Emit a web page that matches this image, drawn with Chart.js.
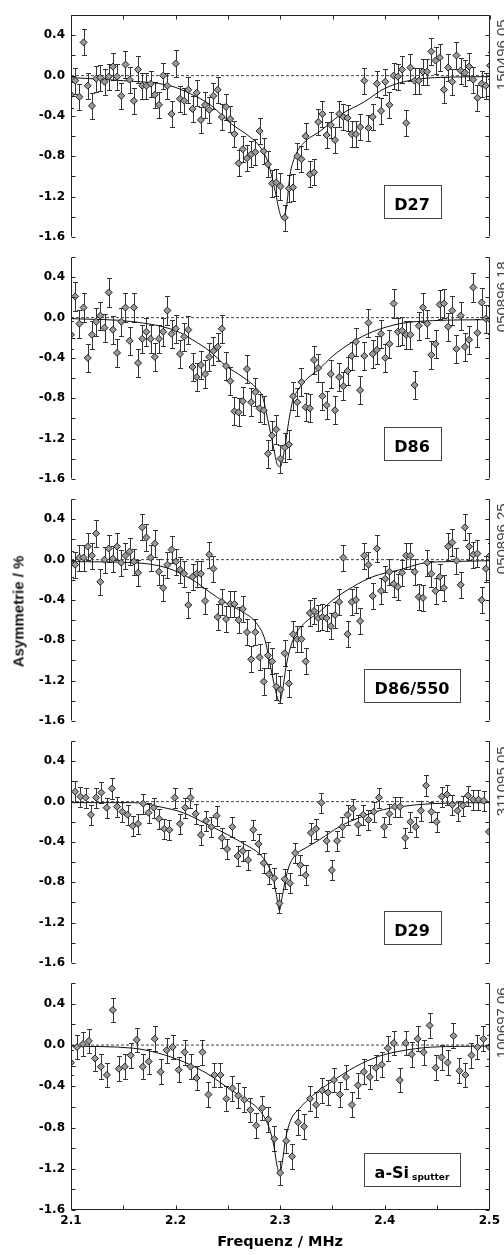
<!DOCTYPE html>
<html>
<head>
<meta charset="utf-8">
<script src="https://cdn.jsdelivr.net/npm/chart.js@4.4.0/dist/chart.umd.min.js"></script>
<style>
  html, body { margin: 0; padding: 0; background: #fff; }
  #wrap { position: relative; width: 504px; height: 1255px; overflow: hidden; }
  #wrap canvas { position: absolute; left: 0; }
  #ytitle {
    position: absolute; left: -82px; top: 603px; width: 200px;
    text-align: center; line-height: 16px;
    font: bold 15px "Liberation Sans", Arial, sans-serif; color: #111;
    transform: rotate(-90deg); white-space: nowrap;
  }
</style>
</head>
<body>
<div id="wrap">
  <canvas id="p0" width="504" height="248"></canvas>
  <canvas id="p1" width="504" height="248"></canvas>
  <canvas id="p2" width="504" height="248"></canvas>
  <canvas id="p3" width="504" height="248"></canvas>
  <canvas id="p4" width="504" height="285"></canvas>
  <div id="ytitle">Asymmetrie / %</div>
</div>
<script>
// Frequenzen der Messpunkte (MHz)
const freqA = [2.100,2.104,2.108,2.112,2.116,2.120,2.124,2.128,2.132,2.136,2.140,2.144,2.148,2.152,2.156,2.160,2.164,2.168,2.172,2.176,2.180,2.184,2.188,2.192,2.196,2.200,2.204,2.208,2.212,2.216,2.220,2.224,2.228,2.232,2.236,2.240,2.244,2.248,2.252,2.256,2.260,2.264,2.268,2.272,2.276,2.280,2.284,2.288,2.292,2.296,2.300,2.304,2.308,2.312,2.316,2.320,2.324,2.328,2.332,2.336,2.340,2.344,2.348,2.352,2.356,2.360,2.364,2.368,2.372,2.376,2.380,2.384,2.388,2.392,2.396,2.400,2.404,2.408,2.412,2.416,2.420,2.424,2.428,2.432,2.436,2.440,2.444,2.448,2.452,2.456,2.460,2.464,2.468,2.472,2.476,2.480,2.484,2.488,2.492,2.496,2.500];
const freqB = [2.104,2.109,2.114,2.119,2.124,2.129,2.134,2.139,2.144,2.149,2.154,2.159,2.164,2.169,2.174,2.179,2.184,2.189,2.194,2.199,2.204,2.209,2.214,2.219,2.224,2.229,2.234,2.239,2.244,2.249,2.254,2.259,2.264,2.269,2.274,2.279,2.284,2.289,2.294,2.299,2.304,2.309,2.314,2.319,2.324,2.329,2.334,2.339,2.344,2.349,2.354,2.359,2.364,2.369,2.374,2.379,2.384,2.389,2.394,2.399,2.404,2.409,2.414,2.419,2.424,2.429,2.434,2.439,2.444,2.449,2.454,2.459,2.464,2.469,2.474,2.479,2.484,2.489,2.494,2.499];
const freqC = [2.1000,2.1057,2.1114,2.1171,2.1229,2.1286,2.1343,2.1400,2.1457,2.1514,2.1571,2.1629,2.1686,2.1743,2.1800,2.1857,2.1914,2.1971,2.2029,2.2086,2.2143,2.2200,2.2257,2.2314,2.2371,2.2429,2.2486,2.2543,2.2600,2.2657,2.2714,2.2771,2.2829,2.2886,2.2943,2.3000,2.3057,2.3114,2.3171,2.3229,2.3286,2.3343,2.3400,2.3457,2.3514,2.3571,2.3629,2.3686,2.3743,2.3800,2.3857,2.3914,2.3971,2.4029,2.4086,2.4143,2.4200,2.4257,2.4314,2.4371,2.4429,2.4486,2.4543,2.4600,2.4657,2.4714,2.4771,2.4829,2.4886,2.4943,2.5000];

// Asymmetrie (%) je Probe
const asymD27 = [-0.19,-0.05,-0.21,0.33,-0.10,-0.30,-0.03,-0.02,-0.06,-0.01,
  0.09,-0.01,-0.20,0.11,-0.04,-0.25,0.06,-0.10,-0.10,-0.08,
  -0.19,-0.29,0.00,-0.10,-0.38,0.12,-0.23,-0.25,-0.14,-0.33,
  -0.17,-0.44,-0.29,-0.34,-0.20,-0.14,-0.41,-0.31,-0.43,-0.58,
  -0.87,-0.73,-0.82,-0.78,-0.76,-0.55,-0.75,-0.88,-1.07,-1.06,
  -1.10,-1.41,-1.12,-1.11,-0.80,-0.83,-0.60,-0.98,-0.96,-0.46,
  -0.38,-0.59,-0.49,-0.64,-0.38,-0.41,-0.42,-0.58,-0.58,-0.51,
  -0.05,-0.52,-0.41,-0.08,-0.35,-0.06,-0.29,0.00,-0.01,0.06,
  -0.47,0.08,-0.05,-0.05,0.04,0.04,0.24,0.15,0.18,-0.14,
  0.08,-0.06,0.20,0.05,0.03,0.09,-0.04,-0.22,-0.08,-0.10,
  0.10];
const asymD86 = [-0.17,0.21,-0.06,0.10,-0.40,-0.17,-0.04,0.02,-0.10,0.25,
  -0.12,-0.35,-0.04,0.10,-0.23,0.10,-0.45,-0.21,-0.14,-0.21,
  -0.39,-0.21,-0.14,0.07,-0.16,-0.11,-0.36,-0.19,-0.12,-0.49,
  -0.59,-0.47,-0.56,-0.39,-0.33,-0.29,-0.11,-0.48,-0.63,-0.93,
  -0.94,-0.83,-0.51,-0.84,-0.74,-0.90,-0.92,-1.35,-1.17,-1.11,
  -1.40,-1.29,-1.26,-0.78,-0.84,-0.64,-0.89,-0.90,-0.42,-0.50,
  -0.78,-0.87,-0.56,-0.92,-0.59,-0.68,-0.53,-0.38,-0.24,-0.72,
  -0.38,-0.05,-0.36,-0.32,-0.16,-0.40,-0.26,0.14,-0.14,-0.13,
  -0.17,-0.17,-0.67,-0.08,0.10,-0.06,-0.37,-0.26,0.13,0.14,
  -0.09,0.07,-0.31,0.02,-0.29,-0.22,0.30,-0.15,0.15,-0.01,
  -0.02];
const asymD86_550 = [-0.04,-0.05,0.02,0.02,0.13,0.04,0.26,-0.22,0.00,0.11,
  0.01,0.13,-0.03,0.04,0.08,-0.02,-0.13,0.32,0.22,0.02,
  0.16,-0.12,-0.28,-0.05,0.10,-0.02,-0.10,-0.14,-0.45,-0.17,
  -0.14,-0.14,-0.41,0.05,-0.09,-0.57,-0.42,-0.59,-0.44,-0.44,
  -0.60,-0.49,-0.72,-0.99,-0.72,-0.97,-1.21,-0.95,-1.01,-1.26,
  -1.29,-0.93,-1.23,-0.74,-0.79,-0.79,-1.01,-0.53,-0.51,-0.58,
  -0.57,-0.58,-0.66,-0.55,-0.42,0.02,-0.74,-0.42,-0.40,-0.61,
  0.04,-0.05,-0.36,0.11,-0.31,-0.19,-0.12,-0.24,-0.27,-0.13,
  0.04,0.04,-0.12,-0.37,-0.38,-0.03,-0.14,-0.31,-0.17,-0.28,
  0.13,0.17,-0.01,-0.25,0.32,0.13,0.05,0.06,-0.40,-0.09,
  0.04];
const asymD29 = [0.10,0.05,0.04,-0.13,0.04,0.09,-0.06,0.13,-0.05,-0.10,
  -0.13,-0.24,-0.22,-0.02,-0.11,-0.06,-0.17,-0.27,-0.28,0.04,
  -0.22,-0.06,0.04,-0.12,-0.33,-0.19,-0.25,-0.14,-0.36,-0.47,
  -0.25,-0.54,-0.49,-0.58,-0.28,-0.42,-0.61,-0.72,-0.76,-1.01,
  -0.77,-0.81,-0.51,-0.63,-0.73,-0.31,-0.27,-0.01,-0.39,-0.68,
  -0.39,-0.25,-0.13,-0.07,-0.23,-0.13,-0.18,-0.10,0.04,-0.25,
  -0.12,-0.05,-0.05,-0.36,-0.20,-0.25,-0.09,0.16,-0.10,-0.20,
  0.05,0.07,-0.03,-0.09,-0.04,0.06,0.02,0.02,0.01,-0.30];
const asymASi = [-0.17,-0.02,0.01,0.04,-0.13,-0.21,-0.29,0.34,-0.23,-0.21,
  -0.10,0.05,-0.21,-0.16,0.06,-0.26,-0.05,-0.02,-0.24,-0.07,
  -0.21,-0.32,-0.07,-0.48,-0.29,-0.29,-0.52,-0.42,-0.49,-0.53,
  -0.63,-0.78,-0.61,-0.72,-0.91,-1.24,-0.93,-1.08,-0.75,-0.79,
  -0.52,-0.58,-0.44,-0.46,-0.34,-0.48,-0.31,-0.58,-0.39,-0.26,
  -0.31,-0.22,-0.19,-0.03,0.02,-0.34,0.02,-0.09,0.06,-0.07,
  0.19,-0.22,-0.12,-0.17,0.09,-0.25,-0.29,-0.10,-0.02,0.06,
  -0.02];

// Fehler der Asymmetrie (%) je Probe
const asymErr = [0.13, 0.14, 0.13, 0.10, 0.12];

// Anpassungskurven: Stuetzstellen (MHz) und Werte (%)
const fitF_D27 = [2.100,2.150,2.1945,2.214,2.233,2.252,2.271,2.280,2.287,2.290,2.295,2.2995,2.302,2.306,2.309,2.314,2.322,2.338,2.357,2.380,2.399,2.418,2.447,2.500];
const fitA_D27 = [-0.02,-0.05,-0.10,-0.18,-0.29,-0.47,-0.61,-0.70,-0.83,-0.93,-1.15,-1.37,-1.42,-1.28,-0.99,-0.80,-0.67,-0.55,-0.39,-0.26,-0.13,-0.06,-0.02,-0.01];
const fitF_D86 = [2.100,2.159,2.200,2.216,2.232,2.248,2.264,2.277,2.283,2.288,2.293,2.297,2.2996,2.304,2.308,2.312,2.316,2.324,2.337,2.350,2.369,2.388,2.414,2.445,2.500];
const fitA_D86 = [-0.01,-0.04,-0.13,-0.22,-0.33,-0.48,-0.59,-0.70,-0.79,-1.02,-1.27,-1.46,-1.48,-1.30,-1.02,-0.81,-0.73,-0.62,-0.51,-0.38,-0.24,-0.14,-0.06,-0.03,-0.02];
const fitF_D86_550 = [2.100,2.159,2.191,2.216,2.232,2.248,2.264,2.277,2.285,2.289,2.294,2.299,2.302,2.305,2.309,2.315,2.324,2.337,2.350,2.369,2.388,2.414,2.439,2.461,2.500];
const fitA_D86_550 = [-0.02,-0.03,-0.08,-0.20,-0.32,-0.43,-0.52,-0.63,-0.79,-0.98,-1.24,-1.41,-1.30,-1.08,-0.89,-0.73,-0.62,-0.52,-0.40,-0.27,-0.17,-0.10,-0.03,-0.02,-0.01];
const fitF_D29 = [2.100,2.159,2.184,2.207,2.229,2.248,2.267,2.280,2.288,2.293,2.296,2.299,2.3015,2.305,2.309,2.315,2.324,2.337,2.356,2.375,2.398,2.414,2.445,2.500];
const fitA_D29 = [-0.01,-0.01,-0.05,-0.11,-0.22,-0.32,-0.43,-0.52,-0.63,-0.76,-0.92,-1.08,-0.95,-0.76,-0.62,-0.52,-0.46,-0.38,-0.25,-0.16,-0.08,-0.05,-0.02,-0.01];
const fitF_ASi = [2.100,2.159,2.184,2.207,2.229,2.248,2.264,2.280,2.289,2.294,2.297,2.2996,2.302,2.305,2.310,2.318,2.331,2.350,2.372,2.394,2.414,2.445,2.500];
const fitA_ASi = [-0.01,-0.03,-0.08,-0.16,-0.27,-0.40,-0.51,-0.63,-0.79,-0.98,-1.17,-1.25,-1.14,-0.92,-0.73,-0.62,-0.49,-0.35,-0.21,-0.11,-0.06,-0.02,-0.01];

// Probenbezeichnungen und Messnummern
const sampleNames = ['D27', 'D86', 'D86/550', 'D29', 'a-Si'];
const sampleSubs = ['', '', '', '', 'sputter'];
const runIds = ['150496.05', '050896.18', '050896.25', '311095.05', '100697.06'];

const panelData = [
  { freq: freqA, asym: asymD27, fitF: fitF_D27, fitA: fitA_D27 },
  { freq: freqA, asym: asymD86, fitF: fitF_D86, fitA: fitA_D86 },
  { freq: freqA, asym: asymD86_550, fitF: fitF_D86_550, fitA: fitA_D86_550 },
  { freq: freqB, asym: asymD29, fitF: fitF_D29, fitA: fitA_D29 },
  { freq: freqC, asym: asymASi, fitF: fitF_ASi, fitA: fitA_ASi }
];

const F_MIN = 2.1, F_MAX = 2.5;
const BOLD = '"DejaVu Sans", "Liberation Sans", sans-serif';
const panelTops = [10, 252, 494, 736, 978];

// Rahmen, Fehlerbalken, Beschriftungskasten und Messnummer
const panelFrame = {
  id: 'panelFrame',
  beforeDatasetsDraw(chart, args, p) {
    const { ctx, chartArea: a, scales: { x, y } } = chart;
    ctx.save();
    ctx.beginPath();
    ctx.rect(a.left, a.top, a.right - a.left, a.bottom - a.top);
    ctx.clip();
    ctx.strokeStyle = '#333';
    ctx.lineWidth = 1;
    ctx.beginPath();
    p.freq.forEach((f, i) => {
      const px = Math.round(x.getPixelForValue(f)) + 0.5;
      const y1 = Math.round(y.getPixelForValue(p.asym[i] + p.err)) + 0.5;
      const y2 = Math.round(y.getPixelForValue(p.asym[i] - p.err)) + 0.5;
      ctx.moveTo(px, y1); ctx.lineTo(px, y2);
      ctx.moveTo(px - 2.5, y1); ctx.lineTo(px + 2.5, y1);
      ctx.moveTo(px - 2.5, y2); ctx.lineTo(px + 2.5, y2);
    });
    ctx.stroke();
    ctx.restore();
  },
  afterDraw(chart, args, p) {
    const { ctx, chartArea: a, scales: { x, y } } = chart;
    const L = Math.floor(a.left) + 0.5, R = Math.ceil(a.right) - 0.5;
    const T = Math.floor(a.top) + 0.5, B = Math.ceil(a.bottom) - 0.5;
    ctx.save();
    ctx.strokeStyle = '#222';
    ctx.lineWidth = 1;
    ctx.beginPath();
    ctx.moveTo(L, T); ctx.lineTo(L, B);
    ctx.moveTo(R, T); ctx.lineTo(R, B);
    y.ticks.forEach(t => {
      const py = Math.round(y.getPixelForValue(t.value)) + 0.5;
      ctx.moveTo(L, py); ctx.lineTo(L + 4, py);
      ctx.moveTo(R, py); ctx.lineTo(R - 4, py);
    });
    if (p.topAxis) {
      ctx.moveTo(L, T); ctx.lineTo(R, T);
      x.ticks.forEach(t => {
        const px = Math.round(x.getPixelForValue(t.value)) + 0.5;
        ctx.moveTo(px, T); ctx.lineTo(px, T + 4);
      });
    }
    if (p.bottomAxis) {
      ctx.moveTo(L, B); ctx.lineTo(R, B);
      x.ticks.forEach(t => {
        const px = Math.round(x.getPixelForValue(t.value)) + 0.5;
        ctx.moveTo(px, B); ctx.lineTo(px, B - 4);
      });
    }
    ctx.stroke();

    // Kasten mit Probenname
    ctx.font = 'bold 16px ' + BOLD;
    const mainW = ctx.measureText(p.name).width;
    let subW = 0;
    if (p.sub) {
      ctx.font = 'bold 9px ' + BOLD;
      subW = ctx.measureText(p.sub).width + 3;
    }
    const bw = Math.round(mainW + subW + 21), bh = 33;
    const bx = Math.round(412 - bw / 2) + 0.5, by = Math.round(a.top + 170) + 0.5;
    ctx.fillStyle = '#fff';
    ctx.fillRect(bx, by, bw, bh);
    ctx.strokeStyle = '#444';
    ctx.strokeRect(bx, by, bw, bh);
    ctx.fillStyle = '#000';
    ctx.textBaseline = 'alphabetic';
    ctx.textAlign = 'left';
    const tx = 412 - (mainW + subW) / 2;
    ctx.font = 'bold 16px ' + BOLD;
    ctx.fillText(p.name, tx, by + 24);
    if (p.sub) {
      ctx.font = 'bold 9px ' + BOLD;
      ctx.fillText(p.sub, tx + mainW + 3, by + 26.5);
    }

    // Messnummer am rechten Rand
    ctx.translate(chart.width + 3, a.top + 75);
    ctx.rotate(-Math.PI / 2);
    ctx.font = '15px "Liberation Sans", Arial, sans-serif';
    ctx.fillStyle = '#444';
    ctx.fillText(p.run, 0, 0);
    ctx.restore();
  }
};

function makePanel(i) {
  const d = panelData[i];
  const last = i === panelData.length - 1;
  const canvas = document.getElementById('p' + i);
  canvas.style.top = (panelTops[i] - 8) + 'px';

  const points = d.freq.map((f, k) => ({ x: f, y: d.asym[k] }));
  const fit = d.fitF.map((f, k) => ({ x: f, y: d.fitA[k] }));
  const zero = [{ x: F_MIN, y: 0 }, { x: F_MAX, y: 0 }];

  new Chart(canvas, {
    type: 'scatter',
    data: {
      datasets: [
        {
          data: points,
          pointStyle: 'rectRot',
          pointRadius: 3.5,
          backgroundColor: '#999',
          borderColor: '#222',
          borderWidth: 1
        },
        {
          type: 'line',
          data: fit,
          borderColor: '#111',
          borderWidth: 1,
          pointRadius: 0,
          cubicInterpolationMode: 'monotone',
          fill: false
        },
        {
          type: 'line',
          data: zero,
          borderColor: '#444',
          borderWidth: 1,
          borderDash: [3, 2],
          pointRadius: 0,
          fill: false
        }
      ]
    },
    options: {
      responsive: false,
      animation: false,
      devicePixelRatio: 1,
      events: [],
      layout: { padding: { top: 8, bottom: last ? 0 : 8, left: 0, right: 14 } },
      plugins: {
        legend: { display: false },
        tooltip: { enabled: false },
        panelFrame: {
          freq: d.freq, asym: d.asym, err: asymErr[i],
          name: sampleNames[i], sub: sampleSubs[i], run: runIds[i],
          topAxis: i === 0, bottomAxis: last
        }
      },
      scales: {
        x: {
          type: 'linear',
          min: F_MIN, max: F_MAX,
          afterFit: s => { s.height = last ? 45 : 0; },
          grid: { display: false, drawTicks: false },
          border: { display: false },
          ticks: {
            display: last,
            stepSize: 0.05,
            autoSkip: false,
            maxRotation: 0,
            padding: 4,
            color: '#000',
            font: { family: BOLD, size: 12, weight: 'bold' },
            callback: v => {
              const r = Math.round(v * 100);
              return r % 10 === 0 ? (r / 100).toFixed(1) : '';
            }
          },
          title: {
            display: last,
            text: 'Frequenz / MHz',
            color: '#000',
            font: { family: BOLD, size: 14.5, weight: 'bold' },
            padding: { top: 0, bottom: 4 }
          }
        },
        y: {
          min: -1.6, max: 0.6,
          afterFit: s => { s.width = 71; },
          grid: { display: false, drawTicks: false },
          border: { display: false },
          ticks: {
            stepSize: 0.2,
            autoSkip: false,
            padding: 6,
            color: '#000',
            font: { family: BOLD, size: 12, weight: 'bold' },
            callback: v => {
              const r = Math.round(v * 10);
              return (r % 4 === 0 && r <= 4) ? (r / 10).toFixed(1) : '';
            }
          }
        }
      }
    },
    plugins: [panelFrame]
  });
}

panelData.forEach((d, i) => makePanel(i));
</script>
</body>
</html>
